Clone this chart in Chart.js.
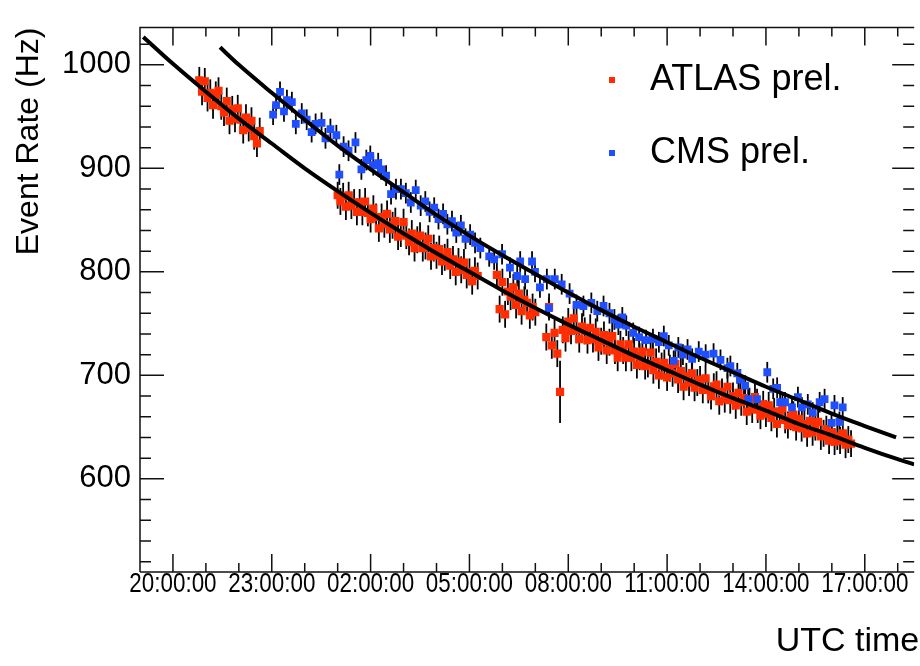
<!DOCTYPE html>
<html>
<head>
<meta charset="utf-8">
<script src="https://cdn.jsdelivr.net/npm/chart.js@4.4.1/dist/chart.umd.min.js"></script>
<style>
  html, body { margin: 0; padding: 0; background: #fff; overflow: hidden; }
  #wrap { width: 920px; height: 666px; }
</style>
</head>
<body>
<div id="wrap"><canvas id="rates" width="920" height="666"></canvas></div>
<script>
// x values are hours after 19:00 UTC
var xTickHours = [1, 4, 7, 10, 13, 16, 19, 22];
var xTickLabels = ['20:00:00', '23:00:00', '02:00:00', '05:00:00', '08:00:00', '11:00:00', '14:00:00', '17:00:00'];
var yTickValues = [600, 700, 800, 900, 1000];

// ATLAS: runs sampled every 5 minutes, start hour + rates
var atlasStep = 1 / 12;
var atlasRunA = { start: 1.8, rates: [985, 974, 984, 968, 973, 961, 971, 975, 960, 954, 965, 946, 957, 948, 958, 947, 937, 949, 939, 946, 931, 924, 936] };
var atlasRunB = { start: 6.0, rates: [874, 868, 873, 863, 874, 864, 867, 858, 867, 858, 868, 857, 851, 861, 853, 842, 853, 846, 856, 841, 845, 849, 834, 837, 848, 835, 829, 837, 823, 831, 835, 823, 825, 832, 815, 823, 816, 822, 810, 814, 819, 806, 812, 800, 810, 802, 809, 797, 800, 791, 801, 796] };
var atlasRunC = { start: 10.833, rates: [797, 764, 790, 759, 781, 776, 785, 768, 779, 762, 773, 770, 758, 766, 761] };
var atlasRunD = { start: 12.333, rates: [737, 766, 729, 741, 721] };
var atlasRunE = { start: 12.833, rates: [744, 736, 752, 743, 755, 744, 735, 747, 743, 734, 746, 735, 742, 727, 733, 739, 724, 732, 738, 724, 717, 730, 724, 717, 730, 717, 723, 710, 718, 723, 709, 711, 722, 705, 713, 700, 709, 712, 698, 707, 702, 711, 696, 704, 689, 699, 693, 702, 688, 693, 696, 686, 697, 686, 680, 689, 691, 675, 684, 677, 689, 676, 680, 671, 683, 674, 678, 665, 675, 667, 679, 667, 661, 672, 663, 671, 659, 665, 653, 665, 668, 657, 652, 660, 662, 650, 658, 649, 653, 644, 656, 645, 650, 655, 641, 644, 648, 637, 645, 636, 641, 637, 644, 633, 638, 634] };
var atlasErr = 13;
var atlasOddPoint = { x: 12.75, y: 684, e: 30 };

// CMS
var cmsHours = [4.04, 4.13, 4.25, 4.37, 4.46, 4.61, 4.73, 4.91, 5.06, 5.21,
  5.33, 5.51, 5.63, 5.78, 5.96, 6.05, 6.18, 6.33, 6.54, 6.72,
  6.87, 6.99, 7.08, 7.23, 7.32, 7.47, 7.62, 7.77, 7.92, 8.07,
  8.22, 8.37, 8.52, 8.66, 8.79, 8.93, 9.06, 9.2, 9.33, 9.47,
  9.6, 9.74, 9.88, 10.02, 10.17, 10.33, 10.6, 10.75, 10.99, 11.23,
  11.45, 11.54, 11.69, 11.9, 11.99, 12.14, 12.35, 12.41, 12.59, 12.8,
  13.04, 13.25, 13.46, 13.7, 13.88, 14.07, 14.25, 14.4, 14.52, 14.64,
  14.76, 14.97, 15.15, 15.36, 15.57, 15.75, 15.9, 16.05, 16.2, 16.34,
  16.48, 16.62, 16.76, 16.96, 17.17, 17.41, 17.62, 17.83, 17.92, 18.13,
  18.22, 18.37, 18.46, 18.73, 19.04, 19.22, 19.34, 19.43, 19.58, 19.79,
  19.97, 20.09, 20.27, 20.42, 20.63, 20.78, 20.99, 21.08, 21.23, 21.33];
var cmsRates = [952, 961, 974, 955, 966, 964, 943, 953, 947, 935,
  943, 944, 929, 938, 932, 894, 921, 917, 925, 899,
  908, 912, 903, 905, 899, 893, 875, 880, 880, 876,
  867, 879, 864, 868, 858, 862, 851, 856, 846, 849,
  838, 845, 832, 836, 828, 823, 815, 812, 817, 804,
  796, 810, 793, 810, 800, 785, 793, 765, 793, 788,
  779, 768, 767, 770, 762, 767, 760, 754, 749, 756,
  748, 741, 737, 734, 735, 732, 738, 729, 714, 727,
  720, 725, 716, 723, 720, 721, 715, 707, 709, 702,
  696, 690, 677, 677, 703, 687, 688, 674, 674, 669,
  679, 669, 672, 664, 674, 677, 654, 671, 655, 669];
var cmsErr = 10;

// fitted curves
var atlasFitHours = [0.1, 1, 2, 3, 4, 5, 6, 7, 8, 9, 10, 11, 12, 13, 14, 15, 16, 17, 18, 19, 20, 21, 22, 23, 23.5];
var atlasFitRates = [1027, 1001, 974, 948, 924, 900, 878, 857, 837, 818, 800, 782, 765, 749, 734, 719, 705, 691, 678, 666, 653, 642, 630, 619, 614];
var cmsFitHours = [2.43, 3, 4, 5, 6, 7, 8, 9, 10, 11, 12, 13, 14, 15, 16, 17, 18, 19, 20, 21, 22, 22.95];
var cmsFitRates = [1017, 1000, 973, 947, 922, 899, 877, 855, 835, 816, 798, 780, 763, 747, 732, 717, 703, 689, 676, 663, 651, 640];

function runPoints(run) {
  return run.rates.map(function (r, i) { return { x: run.start + i * atlasStep, y: r }; });
}
function pairPoints(xs, ys) {
  return xs.map(function (x, i) { return { x: x, y: ys[i] }; });
}

var atlasPoints = [].concat(runPoints(atlasRunA), runPoints(atlasRunB), runPoints(atlasRunC),
  runPoints(atlasRunD), [atlasOddPoint], runPoints(atlasRunE));

var errorBars = {
  id: 'errorBars',
  beforeDatasetsDraw: function (chart) {
    var ctx = chart.ctx, ys = chart.scales.y;
    ctx.save();
    ctx.strokeStyle = '#000';
    ctx.lineWidth = 1.8;
    chart.data.datasets.forEach(function (ds, i) {
      if (!ds.errorBar) return;
      chart.getDatasetMeta(i).data.forEach(function (el, j) {
        var p = ds.data[j], e = p.e || ds.errorBar;
        ctx.beginPath();
        ctx.moveTo(el.x, ys.getPixelForValue(p.y + e));
        ctx.lineTo(el.x, ys.getPixelForValue(p.y - e));
        ctx.stroke();
      });
    });
    ctx.restore();
  }
};

// ROOT style frame: inward ticks on all four sides, squeezed time labels, x title
var frameTicks = {
  id: 'frameTicks',
  afterDatasetsDraw: function (chart) {
    var a = chart.chartArea, xs = chart.scales.x, ys = chart.scales.y, ctx = chart.ctx;
    ctx.save();
    ctx.strokeStyle = '#111';
    ctx.lineWidth = 1.5;
    ctx.beginPath();
    ctx.moveTo(a.left, a.bottom);
    ctx.lineTo(a.left, a.top);
    ctx.lineTo(a.right, a.top);
    ctx.moveTo(a.left, a.bottom);
    ctx.lineTo(a.right, a.bottom);
    for (var v = 520; v <= 1020; v += 20) {
      var py = ys.getPixelForValue(v), big = v % 100 === 0;
      ctx.moveTo(a.left, py); ctx.lineTo(a.left + (big ? 24 : 11), py);
      ctx.moveTo(a.right, py); ctx.lineTo(a.right - (big ? 22 : 11), py);
    }
    for (var h = 1; h <= 23; h++) {
      var px = xs.getPixelForValue(h), major = (h - 1) % 3 === 0;
      ctx.moveTo(px, a.bottom); ctx.lineTo(px, a.bottom - (major ? 18 : 9));
      ctx.moveTo(px, a.top); ctx.lineTo(px, a.top + (major ? 18 : 9));
    }
    ctx.stroke();

    ctx.fillStyle = '#000';
    ctx.font = '28px "Liberation Sans", Arial, sans-serif';
    ctx.textAlign = 'center';
    ctx.textBaseline = 'middle';
    xTickHours.forEach(function (hr, i) {
      ctx.save();
      ctx.translate(xs.getPixelForValue(hr), a.bottom + 12);
      ctx.scale(0.8, 1);
      ctx.fillText(xTickLabels[i], 0, 0);
      ctx.restore();
    });

    ctx.font = '34px "Liberation Sans", Arial, sans-serif';
    ctx.textAlign = 'right';
    ctx.fillText('UTC time', a.right + 5, a.bottom + 70);
    ctx.restore();
  }
};

var markerLegend = {
  id: 'markerLegend',
  afterDraw: function (chart, args, opts) {
    var ctx = chart.ctx;
    ctx.save();
    ctx.font = opts.font;
    ctx.textBaseline = 'middle';
    chart.data.datasets.forEach(function (ds) {
      if (ds.legendRow === undefined) return;
      var y = opts.y + ds.legendRow * opts.rowGap;
      ctx.fillStyle = ds.backgroundColor;
      ctx.fillRect(opts.x - 3, y - 3, 6, 6);
      ctx.fillStyle = '#000';
      ctx.fillText(ds.label, opts.textX, y);
    });
    ctx.restore();
  }
};

new Chart(document.getElementById('rates'), {
  type: 'scatter',
  data: {
    datasets: [
      {
        type: 'line', label: 'ATLAS fit', data: pairPoints(atlasFitHours, atlasFitRates),
        borderColor: '#000', borderWidth: 4, pointRadius: 0, fill: false,
        cubicInterpolationMode: 'monotone', order: 0
      },
      {
        type: 'line', label: 'CMS fit', data: pairPoints(cmsFitHours, cmsFitRates),
        borderColor: '#000', borderWidth: 4, pointRadius: 0, fill: false,
        cubicInterpolationMode: 'monotone', order: 0
      },
      {
        label: 'ATLAS prel.', data: atlasPoints, legendRow: 0,
        errorBar: atlasErr, backgroundColor: '#ff2d00', borderWidth: 0,
        pointStyle: 'rect', pointRadius: 5.8, order: 2
      },
      {
        label: 'CMS prel.', data: pairPoints(cmsHours, cmsRates), legendRow: 1,
        errorBar: cmsErr, backgroundColor: '#1f4fff', borderWidth: 0,
        pointStyle: 'rect', pointRadius: 5.5, order: 1
      }
    ]
  },
  options: {
    responsive: false,
    animation: false,
    layout: { padding: { top: 10, right: 0, bottom: 0, left: 0 } },
    plugins: {
      legend: { display: false },
      tooltip: { enabled: false },
      markerLegend: { x: 612, y: 80, rowGap: 73, textX: 650, font: '36px "Liberation Sans", Arial, sans-serif' }
    },
    scales: {
      x: {
        type: 'linear', min: 0, max: 23.5,
        afterBuildTicks: function (s) { s.ticks = xTickHours.map(function (v) { return { value: v }; }); },
        afterFit: function (s) { s.height = 94; },
        grid: { display: false, drawTicks: false },
        border: { display: false },
        ticks: { display: false }
      },
      y: {
        min: 510, max: 1036,
        afterBuildTicks: function (s) { s.ticks = yTickValues.map(function (v) { return { value: v }; }); },
        afterFit: function (s) { s.width = 140; },
        grid: { display: false, drawTicks: false },
        border: { display: false },
        ticks: {
          padding: 9, color: '#000',
          font: { family: '"Liberation Sans", Arial', size: 31 },
          callback: function (v) { return String(v); }
        },
        title: {
          display: true, text: 'Event Rate (Hz)', align: 'end', color: '#000',
          font: { family: '"Liberation Sans", Arial', size: 32 },
          padding: { top: 10, bottom: 0 }
        }
      }
    }
  },
  plugins: [errorBars, frameTicks, markerLegend]
});
</script>
</body>
</html>
